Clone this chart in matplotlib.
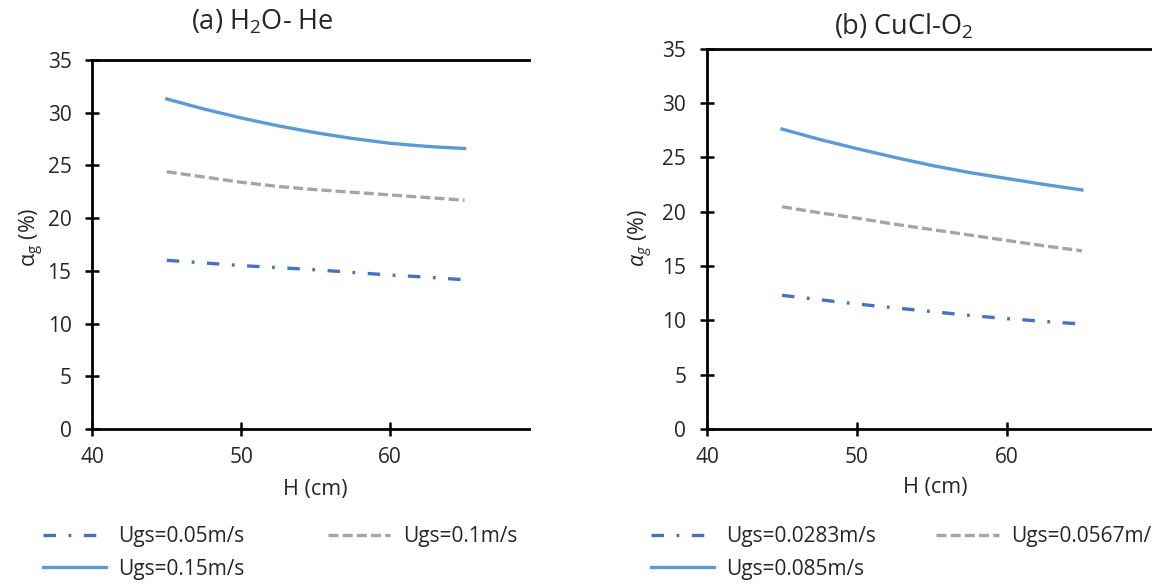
import matplotlib
matplotlib.use("Agg")
import matplotlib.pyplot as plt

# --- Datos ---
H = [45, 47.5, 50, 52.5, 55, 57.5, 60, 62.5, 65]

# (a) H2O - He
he_005 = [16.0, 15.75, 15.5, 15.3, 15.1, 14.85, 14.6, 14.4, 14.15]
he_010 = [24.4, 23.9, 23.4, 23.0, 22.7, 22.45, 22.2, 21.95, 21.7]
he_015 = [31.3, 30.35, 29.5, 28.75, 28.1, 27.55, 27.1, 26.8, 26.6]

# (b) CuCl - O2
o2_0283 = [12.3, 11.9, 11.5, 11.15, 10.8, 10.45, 10.15, 9.9, 9.65]
o2_0567 = [20.45, 19.9, 19.4, 18.85, 18.35, 17.85, 17.35, 16.85, 16.4]
o2_085 = [27.6, 26.65, 25.8, 25.0, 24.25, 23.6, 23.05, 22.5, 22.0]

labels_a = ["Ugs=0.05m/s", "Ugs=0.1m/s", "Ugs=0.15m/s"]
labels_b = ["Ugs=0.0283m/s", "Ugs=0.0567m/s", "Ugs=0.085m/s"]

x_ticks = [40, 50, 60]
y_ticks = [0, 5, 10, 15, 20, 25, 30, 35]

# --- Estilo ---
plt.rcParams['font.family'] = ['Open Sans', 'DejaVu Sans']
plt.rcParams['mathtext.fontset'] = 'custom'
plt.rcParams['mathtext.rm'] = 'Open Sans'
plt.rcParams['mathtext.it'] = 'Open Sans:italic'
plt.rcParams['lines.scale_dashes'] = False

C_DD = '#4472C4'
C_GR = '#A5A5A5'
C_SO = '#5B9BD5'
TXT = '#262626'
FS = 15

fig = plt.figure(figsize=(11.52, 5.87), dpi=100)
ax_a = fig.add_axes([0.0801, 0.2692, 0.3788, 0.6286])
ax_b = fig.add_axes([0.6137, 0.2692, 0.3863, 0.6479])


def dibujar(ax, serie_dd, serie_gr, serie_so, xmax):
    l1, = ax.plot(H, serie_dd, color=C_DD, lw=2.4, dashes=(9, 9, 2, 9))
    l2, = ax.plot(H, serie_gr, color=C_GR, lw=2.4, dashes=(7.2, 3))
    l3, = ax.plot(H, serie_so, color=C_SO, lw=2.4)
    ax.set_xlim(40, xmax)
    ax.set_ylim(0, 35)
    ax.set_xticks(x_ticks)
    ax.set_yticks(y_ticks)
    ax.spines['right'].set_visible(False)
    for s in ['left', 'bottom', 'top']:
        ax.spines[s].set_linewidth(2.0)
        ax.spines[s].set_color('black')
    ax.tick_params(direction='inout', length=10, width=1.8, color='black',
                   labelsize=FS, labelcolor=TXT)
    ax.tick_params(axis='y', pad=10)
    ax.tick_params(axis='x', pad=8)
    return [l1, l2, l3]


h_a = dibujar(ax_a, he_005, he_010, he_015, 69.3)
h_b = dibujar(ax_b, o2_0283, o2_0567, o2_085, 69.67)

# --- Textos ---
fig.text(262 / 1152, 1 - 22 / 587, "(a) H$_2$O- He", ha='center', va='center',
         fontsize=19.5, color=TXT)
fig.text(904 / 1152, 1 - 27 / 587, "(b) CuCl-O$_2$", ha='center', va='center',
         fontsize=19.5, color=TXT)

fig.text(315 / 1152, 1 - 489 / 587, "H (cm)", ha='center', va='center',
         fontsize=FS + 0.5, color=TXT)
fig.text(935 / 1152, 1 - 487 / 587, "H (cm)", ha='center', va='center',
         fontsize=FS + 0.5, color=TXT)

fig.text(32 / 1152, 1 - 237 / 587, "α$_\\mathrm{g}$ (%)", ha='center', va='center',
         rotation=90, fontsize=FS + 0.5, color=TXT)
fig.text(641 / 1152, 1 - 238 / 587, "$\\alpha_g$ (%)", ha='center', va='center',
         rotation=90, fontsize=FS + 0.5, color=TXT)

# --- Leyendas (fila 1: dd, gris; fila 2: continua) ---
orden = [0, 2, 1]
leg_a = fig.legend([h_a[i] for i in orden], [labels_a[i] for i in orden],
                   loc='center left', bbox_to_anchor=(43 / 1152, 1 - 553 / 587),
                   ncol=2, frameon=False, fontsize=FS, handlelength=3.0,
                   handletextpad=0.6, columnspacing=4.0, labelspacing=0.55,
                   borderpad=0, borderaxespad=0, labelcolor=TXT)
leg_b = fig.legend([h_b[i] for i in orden], [labels_b[i] for i in orden],
                   loc='center left', bbox_to_anchor=(651 / 1152, 1 - 553 / 587),
                   ncol=2, frameon=False, fontsize=FS, handlelength=3.0,
                   handletextpad=0.6, columnspacing=2.9, labelspacing=0.55,
                   borderpad=0, borderaxespad=0, labelcolor=TXT)

fig.savefig("out.png", dpi=100)
